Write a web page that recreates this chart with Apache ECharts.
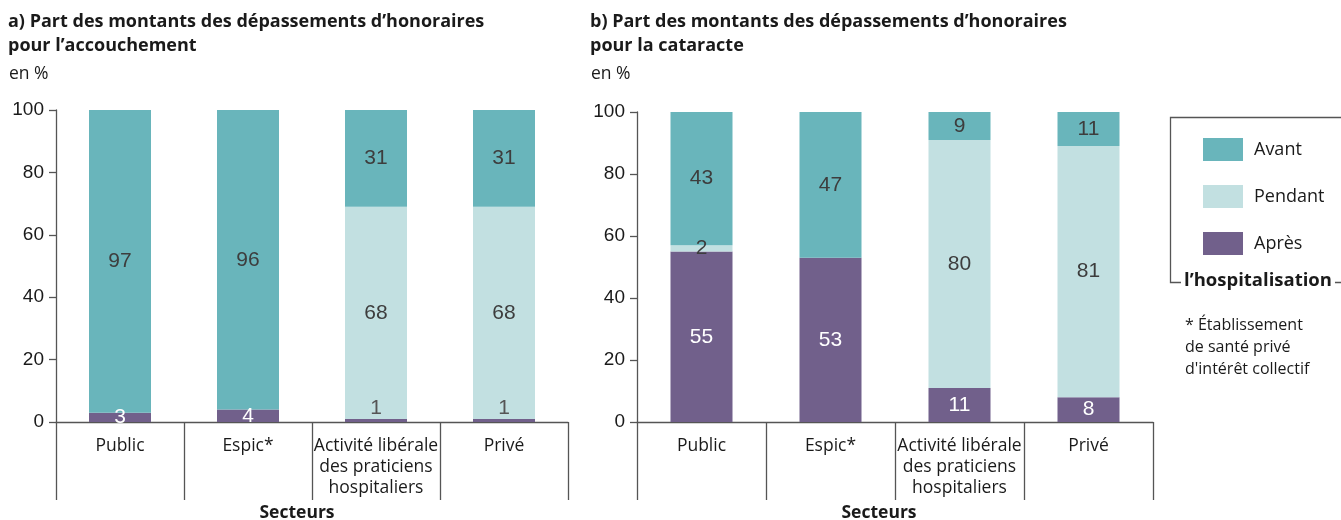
<!DOCTYPE html>
<html>
<head>
<meta charset="utf-8">
<script src="https://cdn.jsdelivr.net/npm/echarts@6/dist/echarts.min.js"></script>
<style>
  html, body { margin: 0; background: #fff; }
  #chart { width: 1341px; height: 520px; }
</style>
</head>
<body>
<div id="chart"></div>
<script>
// categories (secteurs)
const sectors = ["Public", "Espic*", "Activité libérale\ndes praticiens\nhospitaliers", "Privé"];
const yTicks = [0, 20, 40, 60, 80, 100];

// a) accouchement, en %
const accApres = [3, 4, 1, 1];
const accPendant = [0, 0, 68, 68];
const accAvant = [97, 96, 31, 31];

// b) cataracte, en %
const catApres = [55, 53, 11, 8];
const catPendant = [2, 0, 80, 81];
const catAvant = [43, 47, 9, 11];

const COLORS = { Avant: "#69b5bb", Pendant: "#c2e0e1", "Après": "#71608b" };
const TEXT_FONT = "'Open Sans', Lato, sans-serif";
const NUM_FONT = "'Liberation Sans', Arial, sans-serif";

const chart = echarts.init(document.getElementById("chart"));

function buildSeries(name, values, axisIndex) {
  const dark = name !== "Après";
  return {
    name: name,
    type: "bar",
    stack: "s" + axisIndex,
    xAxisIndex: axisIndex,
    yAxisIndex: axisIndex,
    barWidth: 62,
    itemStyle: { color: COLORS[name] },
    label: {
      show: true,
      position: "inside",
      fontFamily: NUM_FONT,
      fontSize: 21,
      color: dark ? "#3d3d3d" : "#fff",
    },
    data: values.map((v) => {
      if (v === 0) return { value: v, label: { show: false } };
      // tiny "après" share: label sits just above the bar piece
      if (!dark && v < 2) {
        return { value: v, label: { position: "top", distance: 0, color: "#555" } };
      }
      return v;
    }),
  };
}

function xAxisCfg(gridIndex) {
  return {
    type: "category",
    gridIndex: gridIndex,
    data: sectors,
    axisLine: { lineStyle: { color: "#555", width: 1.3 } },
    axisTick: { show: true, interval: 0, length: 78, lineStyle: { color: "#555", width: 1.3 } },
    axisLabel: {
      interval: 0,
      margin: 14,
      fontFamily: TEXT_FONT,
      fontSize: 17.5,
      lineHeight: 21,
      color: "#1a1a1a",
    },
  };
}

function yAxisCfg(gridIndex) {
  return {
    type: "value",
    gridIndex: gridIndex,
    min: yTicks[0],
    max: yTicks[yTicks.length - 1],
    interval: yTicks[1] - yTicks[0],
    splitLine: { show: false },
    axisLine: { show: true, lineStyle: { color: "#555", width: 1.3 } },
    axisTick: { show: true, length: 7, lineStyle: { color: "#555", width: 1.3 } },
    axisLabel: {
      margin: 12,
      fontFamily: NUM_FONT,
      fontSize: 19,
      color: "#1a1a1a",
    },
  };
}

const titleStyle = { fontFamily: TEXT_FONT, fontWeight: "bold", fontSize: 18, lineHeight: 24, color: "#1a1a1a" };
const unitStyle = { fontFamily: TEXT_FONT, fontWeight: "normal", fontSize: 17.5, color: "#1a1a1a" };

const option = {
  animation: false,
  backgroundColor: "#fff",
  title: [
    {
      text: "a) Part des montants des dépassements d’honoraires\npour l’accouchement",
      left: 8, top: 10, padding: 0, textStyle: titleStyle,
    },
    { text: "en %", left: 9, top: 65, padding: 0, textStyle: unitStyle },
    {
      text: "b) Part des montants des dépassements d’honoraires\npour la cataracte",
      left: 590, top: 10, padding: 0, textStyle: titleStyle,
    },
    { text: "en %", left: 591, top: 65, padding: 0, textStyle: unitStyle },
  ],
  legend: {
    orient: "vertical",
    left: 1198,
    top: 133,
    itemWidth: 40,
    itemHeight: 23,
    itemGap: 24,
    icon: "rect",
    data: ["Avant", "Pendant", "Après"],
    textStyle: { fontFamily: TEXT_FONT, fontSize: 18, lineHeight: 23, color: "#1a1a1a", padding: [0, 0, 0, 6] },
  },
  grid: [
    { left: 56, top: 110, width: 512, height: 312 },
    { left: 637, top: 112, width: 516, height: 310 },
  ],
  xAxis: [xAxisCfg(0), xAxisCfg(1)],
  yAxis: [yAxisCfg(0), yAxisCfg(1)],
  series: [
    buildSeries("Après", accApres, 0),
    buildSeries("Pendant", accPendant, 0),
    buildSeries("Avant", accAvant, 0),
    buildSeries("Après", catApres, 1),
    buildSeries("Pendant", catPendant, 1),
    buildSeries("Avant", catAvant, 1),
  ],
  graphic: [
    {
      type: "rect",
      shape: { x: 1170.5, y: 117.5, width: 220, height: 165 },
      style: { fill: "none", stroke: "#555", lineWidth: 1.3 },
      silent: true,
    },
    {
      type: "text",
      x: 1181, y: 281,
      style: {
        text: "l’hospitalisation",
        font: "bold 18.5px 'Open Sans', Lato, sans-serif",
        verticalAlign: "middle",
        fill: "#1a1a1a",
        backgroundColor: "#fff",
        padding: [0, 3, 0, 3],
      },
      silent: true,
    },
    {
      type: "text",
      x: 1185, y: 314,
      style: {
        text: "* Établissement\nde santé privé\nd'intérêt collectif",
        font: "16px 'Open Sans', Lato, sans-serif",
        lineHeight: 22,
        verticalAlign: "top",
        fill: "#1a1a1a",
      },
      silent: true,
    },
    {
      type: "text",
      x: 297, y: 513,
      style: {
        text: "Secteurs",
        font: "bold 17.5px 'Open Sans', Lato, sans-serif",
        align: "center", verticalAlign: "middle",
        fill: "#1a1a1a",
      },
      silent: true,
    },
    {
      type: "text",
      x: 879, y: 513,
      style: {
        text: "Secteurs",
        font: "bold 17.5px 'Open Sans', Lato, sans-serif",
        align: "center", verticalAlign: "middle",
        fill: "#1a1a1a",
      },
      silent: true,
    },
  ],
};

chart.setOption(option);
</script>
</body>
</html>
